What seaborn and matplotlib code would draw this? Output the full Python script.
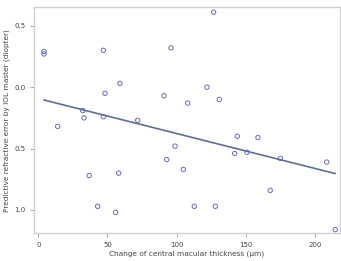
import pandas as pd
import matplotlib
matplotlib.use('Agg')
import matplotlib.pyplot as plt
import seaborn as sns

# change of central macular thickness (um) vs predictive refractive error
cmt_change = [4.1, 4.1, 47.0, 126.7, 95.9, 59.0, 48.2, 90.8, 107.9, 121.9, 130.8,
              32.1, 33.0, 47.0, 71.8, 14.0, 143.8, 158.7, 98.8, 141.9, 150.8,
              174.9, 92.8, 208.4, 104.8, 36.8, 58.1, 167.6, 42.9, 55.9, 112.7,
              127.9, 214.6]
pred_error = [0.29, 0.27, 0.30, 0.61, 0.32, 0.03, -0.05, -0.07, -0.13, 0.00, -0.10,
              -0.19, -0.25, -0.24, -0.27, -0.32, -0.40, -0.41, -0.48, -0.54, -0.53,
              -0.58, -0.59, -0.61, -0.67, -0.72, -0.70, -0.84, -0.97, -1.02, -0.97,
              -0.97, -1.16]
xticks = [0, 50, 100, 150, 200]
yticks = [0.5, 0.0, -0.5, -1.0]
ytick_labels = ['0.5', '0.0', '0.5', '1.0']

data = pd.DataFrame({'cmt': cmt_change, 'err': pred_error})

sns.set_style('white')
fig = plt.figure(figsize=(3.41, 2.61), dpi=100)
ax = fig.add_axes([0.0997, 0.106, 0.8973, 0.866])

sns.regplot(x='cmt', y='err', data=data, ax=ax, scatter=False, ci=None,
            truncate=True, line_kws=dict(color='#5d6f93', lw=1.2))
sns.scatterplot(x='cmt', y='err', data=data, ax=ax, marker='o', s=10,
                facecolors='none', edgecolor='#6a6ac4', linewidth=0.7)

ax.set_xlim(-3.1, 218)
ax.set_ylim(-1.19, 0.65)
ax.set_xticks(xticks)
ax.set_xticklabels([str(t) for t in xticks])
ax.set_yticks(yticks)
ax.set_yticklabels(ytick_labels)

for s in ax.spines.values():
    s.set_color('#d0d0d0')
    s.set_linewidth(1.0)
ax.tick_params(axis='both', direction='out', length=3, width=0.6,
               color='#999999', labelsize=5, labelcolor='#444444', pad=3)
ax.tick_params(left=True, bottom=True)

ax.set_xlabel('Change of central macular thickness (μm)', fontsize=5.3, color='#444444', labelpad=2)
ax.set_ylabel('Predictive refractive error by IOL master (diopter)', fontsize=5.3, color='#444444', labelpad=3)

fig.savefig('out.png', dpi=100)
